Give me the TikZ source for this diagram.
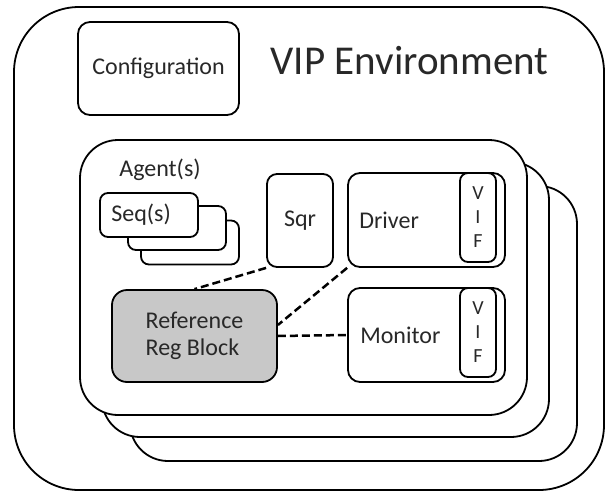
\documentclass[tikz,border=0pt]{standalone}
\usepackage{fontspec}
\setmainfont{Carlito}
\usepackage{xcolor}
\usepackage{tikz}
\usetikzlibrary{positioning}
\definecolor{inkgray}{RGB}{40,40,40}
\definecolor{regfill}{RGB}{200,200,200}
\tikzstyle{frame} = [rectangle, rounded corners=65pt, draw=black, line width=1.8pt, fill=white, inner sep=0pt]
\tikzstyle{agent} = [rectangle, rounded corners=38pt, draw=black, line width=1.8pt, fill=white, inner sep=0pt, minimum width=447pt, minimum height=275pt]
\tikzstyle{block} = [rectangle, rounded corners=12pt, draw=black, line width=1.8pt, fill=white, inner sep=0pt, text=inkgray, font=\fontsize{24}{27}\selectfont]
\tikzstyle{seqbox} = [block, rounded corners=8pt, minimum width=98pt, minimum height=44pt]
\tikzstyle{vif} = [block, rounded corners=8pt, minimum width=36pt, minimum height=89pt, align=center, font=\fontsize{20}{24}\selectfont]
\tikzstyle{lbl} = [text=inkgray, inner sep=0pt, font=\fontsize{24}{27}\selectfont]
\tikzstyle{link} = [line width=2.5pt, dash pattern=on 8pt off 4pt]

\begin{document}
\begin{tikzpicture}[x=1pt, y=-1pt]
\useasboundingbox (0,0) rectangle (606,493);

\node (env) [frame, minimum width=590pt, minimum height=483pt] at (309,248.5) {};
\node (config) [block, minimum width=161pt, minimum height=93pt] at (158.5,68.5) {Configuration};
\node (title) [lbl, font=\fontsize{41}{48}\selectfont] at (409.5,61) {VIP Environment};

% agent stack, back to front
\node (agentC) [agent] at (353.5,323.5) {};
\node (agentB) [agent] at (325.5,299.5) {};
\node (agentA) [agent] at (303.5,277.5) {};
\node (agentlbl) [lbl] at (160,170) {Agent(s)};

% sequences
\node (seqC) [seqbox] at (190,242.5) {};
\node (seqB) [seqbox] at (177,228) {};
\node (seqA) [seqbox] at (149,215) {};
\node (seqlbl) [lbl, right=12pt of seqA.west] {Seq(s)};

\node (sqr) [block, rounded corners=10pt, minimum width=66pt, minimum height=93pt] at (300,220.5) {Sqr};

\node (driver) [block, minimum width=157pt, minimum height=94pt] at (426.5,220) {};
\node (drvvif) [vif] at (478,217.5) {V\\I\\F};
\node (drvlbl) [lbl, right=12pt of driver.west] {Driver};

\node (monitor) [block, minimum width=157pt, minimum height=94pt] at (426.5,335) {};
\node (monvif) [vif] at (478,332.5) {V\\I\\F};
\node (monlbl) [lbl, right=13pt of monitor.west] {Monitor};

\node (regblock) [block, fill=regfill, rounded corners=15pt, minimum width=165pt, minimum height=92pt, align=left] at (194.5,336) {Reference\\Reg Block};

\draw [link] (sqr.south west) -- (regblock.north);
\draw [link] (driver.south west) -- ([yshift=11pt]regblock.east);
\draw [link] (regblock.east) -- (monitor.west);

\end{tikzpicture}
\end{document}
